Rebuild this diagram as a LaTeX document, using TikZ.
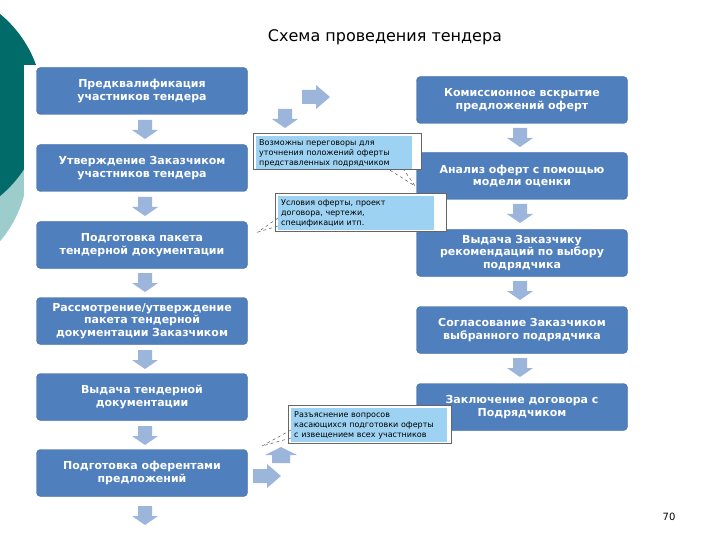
\documentclass[tikz,border=0pt]{standalone}
\usepackage{fontspec}
\setmainfont{DejaVu Sans}
\definecolor{boxblue}{HTML}{4F7FBD}
\definecolor{arrblue}{HTML}{9BB5DB}
\definecolor{callblue}{HTML}{9DD2F2}
\definecolor{darkteal}{HTML}{006B68}
\definecolor{lightteal}{HTML}{9CCCCB}
\tikzset{
  stepbox/.style={draw=boxblue!80!black,fill=boxblue,rounded corners=4pt,minimum width=211pt,minimum height=47pt,
    text width=205pt,align=center,text=white,font=\fontsize{11}{12.5}\selectfont\bfseries,inner sep=2pt},
  callout/.style={fill=callblue,text width=150pt,minimum height=32pt,align=left,inner sep=3pt,font=\fontsize{8}{10}\selectfont},
  callframe/.style={draw=gray!80!black,fill=white,line width=0.6pt},
  pointer/.style={draw=gray!70!black,fill=white,line width=0.5pt,dashed},
  pics/darr/.style={code={\fill[arrblue] (-7,-10) -- (7,-10) -- (7,0) -- (13,0) -- (0,9) -- (-13,0) -- (-7,0) -- cycle;}},
  pics/rarr/.style={code={\fill[arrblue] (-14,-7) -- (0,-7) -- (0,-12) -- (14,0) -- (0,12) -- (0,7) -- (-14,7) -- cycle;}},
  pics/uarr/.style={code={\fill[arrblue] (-9,8) -- (9,8) -- (9,0) -- (16,0) -- (0,-8) -- (-16,0) -- (-9,0) -- cycle;}}
}
\begin{document}
\begin{tikzpicture}[x=1pt,y=-1pt]
\useasboundingbox (0,0) rectangle (720,540);
\fill[white] (0,0) rectangle (720,540);
\fill[lightteal] (-90,165) circle (118);
\fill[darkteal] (-75,105) circle (118);
\fill[white] (24,65) rectangle (720,540);
\node[font=\fontsize{16}{19}\selectfont] (title) at (385,37) {Схема проведения тендера};
% left column
\node[stepbox] (l1) at (142,91) {Предквалификация\\участников тендера};
\node[stepbox] (l2) at (142,168) {Утверждение Заказчиком\\участников тендера};
\node[stepbox] (l3) at (142,245) {Подготовка пакета\\тендерной документации};
\node[stepbox] (l4) at (142,321) {Рассмотрение/утверждение\\пакета тендерной\\документации Заказчиком};
\node[stepbox] (l5) at (142,397) {Выдача тендерной\\документации};
\node[stepbox] (l6) at (142,473) {Подготовка оферентами\\предложений};
% right column
\node[stepbox] (r1) at (522,100) {Комиссионное вскрытие\\предложений оферт};
\node[stepbox] (r2) at (522,176) {Анализ оферт с помощью\\модели оценки};
\node[stepbox] (r3) at (522,253) {Выдача Заказчику\\рекомендаций по выбору\\подрядчика};
\node[stepbox] (r4) at (522,330) {Согласование Заказчиком\\выбранного подрядчика};
\node[stepbox] (r5) at (522,407) {Заключение договора с\\Подрядчиком};
% arrows
\foreach \y in {130,207,283,360,436,516}{\pic at (145,\y) {darr};}
\foreach \y in {138,214,291,368}{\pic at (520,\y) {darr};}
\pic at (316,97) {rarr};
\pic at (285,119) {darr};
\pic at (281,455) {uarr};
\pic at (267,476) {rarr};
% callouts
\fill[callframe] (253,133) rectangle (421,169);
\path[pointer] (385,167) -- (415,186) -- (402,167);
\node[callout,anchor=north west] (c1) at (256,136) {Возможны переговоры для\\уточнения положений оферты\\представленных подрядчиком};
\draw[callframe,fill=none] (253,133) rectangle (421,169);
\fill[callframe] (275,193) rectangle (446,231);
\path[pointer] (278,218) -- (258,232) -- (278,226);
\node[callout,anchor=north west] (c2) at (278,196) {Условия оферты, проект\\договора, чертежи,\\спецификации итп.};
\draw[callframe,fill=none] (275,193) rectangle (446,231);
\fill[callframe] (288,405) rectangle (451,443);
\path[pointer] (291,430) -- (262,446) -- (291,438);
\node[callout,anchor=north west] (c3) at (291,408) {Разъяснение вопросов\\касающихся подготовки оферты\\с извещением всех участников};
\draw[callframe,fill=none] (288,405) rectangle (451,443);
\node[font=\fontsize{10}{12}\selectfont] (pg) at (669,517) {70};
\end{tikzpicture}
\end{document}
